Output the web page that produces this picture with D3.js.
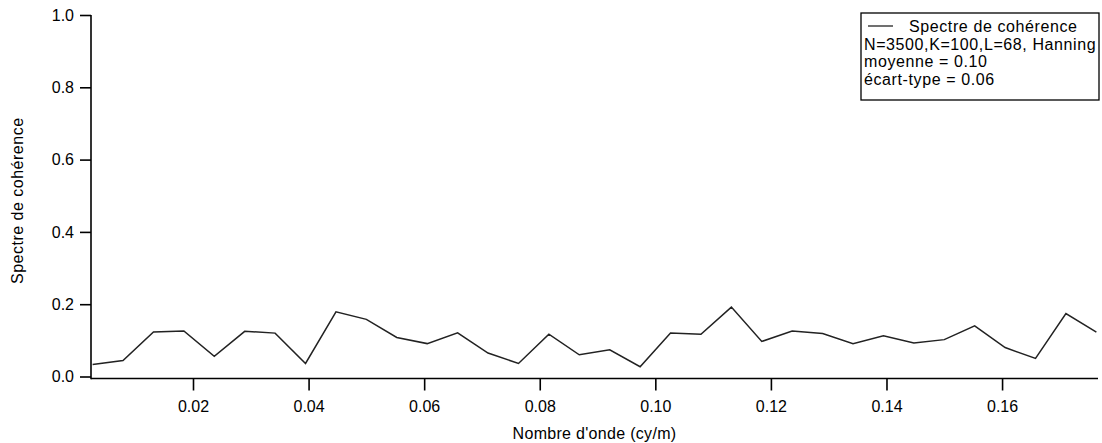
<!DOCTYPE html>
<html>
<head>
<meta charset="UTF-8">
<title>Spectre de cohérence</title>
<script src="https://d3js.org/d3.v7.min.js"></script>
<style>
body { margin: 0; background: #fff; }
svg { display: block; font-family: "Liberation Sans", Arial, sans-serif; }
.axis text { font-size: 16px; fill: #000; }
.axis line { stroke: #000; stroke-width: 1.6px; }
</style>
</head>
<body>
<div id="chart"></div>
<script>
// wavenumbers (cy/m) of each spectral estimate
var waveNumbers = [0.00263, 0.00789, 0.01316, 0.01842, 0.02368, 0.02895, 0.03421, 0.03947,
  0.04474, 0.05000, 0.05526, 0.06053, 0.06579, 0.07105, 0.07632, 0.08158, 0.08684,
  0.09211, 0.09737, 0.10263, 0.10789, 0.11316, 0.11842, 0.12368, 0.12895, 0.13421,
  0.13947, 0.14474, 0.15000, 0.15526, 0.16053, 0.16579, 0.17105, 0.17632];

// coherence values
var coherence = [0.033, 0.044, 0.123, 0.126, 0.056, 0.125, 0.120, 0.036,
  0.179, 0.158, 0.108, 0.091, 0.121, 0.065, 0.036, 0.117, 0.060,
  0.074, 0.027, 0.120, 0.117, 0.192, 0.097, 0.126, 0.119, 0.091,
  0.113, 0.093, 0.102, 0.140, 0.080, 0.050, 0.174, 0.123];

var xTicks = [0.02, 0.04, 0.06, 0.08, 0.10, 0.12, 0.14, 0.16];
var yTicks = [0.0, 0.2, 0.4, 0.6, 0.8, 1.0];
var legendLines = ["Spectre de cohérence", "N=3500,K=100,L=68, Hanning",
  "moyenne = 0.10", "écart-type = 0.06"];

var W = 1102, H = 443;
var svg = d3.select("#chart").append("svg")
  .attr("width", W).attr("height", H);

var x = d3.scaleLinear().domain([0.00235, 0.1766]).range([91, 1098]);
var y = d3.scaleLinear().domain([0, 1]).range([376.5, 15]);
var xAxisY = y(0) + 2;

// y axis
var gy = svg.append("g").attr("class", "axis")
  .attr("transform", "translate(" + x.range()[0] + ",0)")
  .call(d3.axisLeft(y).tickValues(yTicks).tickFormat(d3.format(".1f"))
    .tickSize(11).tickPadding(6));
gy.select(".domain").remove();
gy.append("line")
  .attr("x1", 0).attr("x2", 0)
  .attr("y1", y(1)).attr("y2", xAxisY + 0.8);

// x axis
var gx = svg.append("g").attr("class", "axis")
  .attr("transform", "translate(0," + xAxisY + ")")
  .call(d3.axisBottom(x).tickValues(xTicks).tickFormat(d3.format(".2f"))
    .tickSize(12).tickPadding(10));
gx.select(".domain").remove();
gx.append("line")
  .attr("x1", x.range()[0]).attr("x2", x.range()[1])
  .attr("y1", 0).attr("y2", 0);

// axis titles
svg.append("text")
  .attr("x", (x.range()[0] + x.range()[1]) / 2).attr("y", 439)
  .attr("text-anchor", "middle").style("font-size", "16px")
  .style("letter-spacing", "0.3px")
  .text("Nombre d'onde (cy/m)");

svg.append("text")
  .attr("transform", "translate(23," + ((y(0) + y(1)) / 2 + 5) + ") rotate(-90)")
  .attr("text-anchor", "middle").style("font-size", "16px")
  .style("letter-spacing", "0.5px")
  .text("Spectre de cohérence");

// the spectrum
var pts = waveNumbers.map(function(k, i) { return [k, coherence[i]]; });
svg.append("path")
  .datum(pts)
  .attr("fill", "none")
  .attr("stroke", "#222")
  .attr("stroke-width", 1.5)
  .attr("d", d3.line().x(function(d) { return x(d[0]); }).y(function(d) { return y(d[1]); }));

// legend
var lg = svg.append("g").attr("transform", "translate(861,13)");
lg.append("rect")
  .attr("width", 238).attr("height", 87)
  .attr("fill", "#fff").attr("stroke", "#000").attr("stroke-width", 1.3);
lg.append("line")
  .attr("x1", 7).attr("x2", 32).attr("y1", 13).attr("y2", 13)
  .attr("stroke", "#222").attr("stroke-width", 1.3);
lg.selectAll("text.leg")
  .data(legendLines)
  .enter().append("text")
  .attr("class", "leg")
  .attr("x", function(d, i) { return i === 0 ? 48 : 3; })
  .attr("y", function(d, i) { return 19 + i * 17.7; })
  .style("font-size", "16px")
  .style("letter-spacing", "0.6px")
  .text(function(d) { return d; });
</script>
</body>
</html>
